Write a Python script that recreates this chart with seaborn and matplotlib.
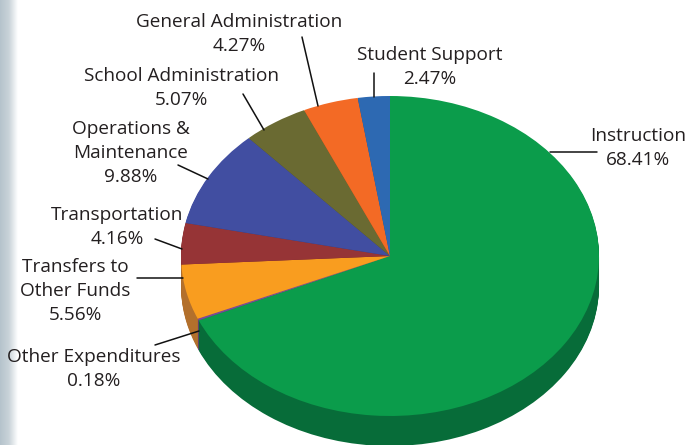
import numpy as np
import matplotlib
matplotlib.use("Agg")
import matplotlib.pyplot as plt
import seaborn as sns

# expenditure shares, clockwise from 12 o'clock
categories = ["Instruction", "Other Expenditures", "Transfers to\nOther Funds", "Transportation",
              "Operations &\nMaintenance", "School Administration", "General Administration", "Student Support"]
shares = [68.41, 0.18, 5.56, 4.16, 9.88, 5.07, 4.27, 2.47]
top_colors = ["#0B9C4B", "#7B4A9A", "#F99D1F", "#963436", "#414EA1", "#6A6A32", "#F36A25", "#2D69B2"]
side_colors = ["#076C39", "#5F3A78", "#B3702C", "#6E2628", "#2F3A78", "#4D4D24", "#B34E1B", "#214E84"]

sns.set_theme(style="white")
plt.rcParams["font.family"] = ["Open Sans", "DejaVu Sans"]

W, H = 688, 445
CX, CY, RX, RY, DEPTH = 390, 256, 209, 160, 30

fig = plt.figure(figsize=(W / 100, H / 100), dpi=100)

# grey strip down the left edge
strip = fig.add_axes([0, 0, 18 / W, 1])
strip.imshow(np.linspace(0, 1, 64).reshape(1, -1), aspect="auto",
             cmap=sns.blend_palette(["#B5C3CC", "#C9D3D9", "#FFFFFF"], as_cmap=True))
strip.axis("off")

# pie axes: unit circle stretched to the ellipse
ax = fig.add_axes([0, 0, 1, 1], zorder=2)
ax.patch.set_alpha(0)
for d in range(DEPTH, 0, -1):
    ax.pie(shares, colors=side_colors, startangle=90, counterclock=False,
           center=(0, -d / RY), radius=1, wedgeprops={"linewidth": 0})
ax.pie(shares, colors=top_colors, startangle=90, counterclock=False,
       center=(0, 0), radius=1, wedgeprops={"linewidth": 0})
ax.set_aspect("auto")
ax.set_xlim(-CX / RX, (W - CX) / RX)
ax.set_ylim(-(H - CY) / RY, CY / RY)

# overlay in pixels for labels and leader lines
ov = fig.add_axes([0, 0, 1, 1], zorder=3)
ov.set_xlim(0, W)
ov.set_ylim(H, 0)
ov.axis("off")

labels = [
    (638, 148, "Instruction\n68.41%", [(550, 152), (597, 152)]),
    (94, 369, "Other Expenditures\n0.18%", [(155, 345), (199, 331)]),
    (75, 291, "Transfers to\nOther Funds\n5.56%", [(137, 278), (183, 278)]),
    (117, 227, "Transportation\n4.16%", [(155, 239), (182, 249)]),
    (131, 153, "Operations &\nMaintenance\n9.88%", [(178, 165), (208, 179)]),
    (182, 88, "School Administration\n5.07%", [(243, 94), (264, 130)]),
    (239, 34, "General Administration\n4.27%", [(302, 37), (318, 106)]),
    (430, 67, "Student Support\n2.47%", [(374, 73), (374, 97)]),
]
for x, y, txt, line in labels:
    ov.text(x, y, txt, ha="center", va="center", fontsize=13.7, color="#231F20", linespacing=1.4)
    ov.plot([p[0] for p in line], [p[1] for p in line], color="#111111", lw=1.1)

fig.savefig("out.png", dpi=100)
